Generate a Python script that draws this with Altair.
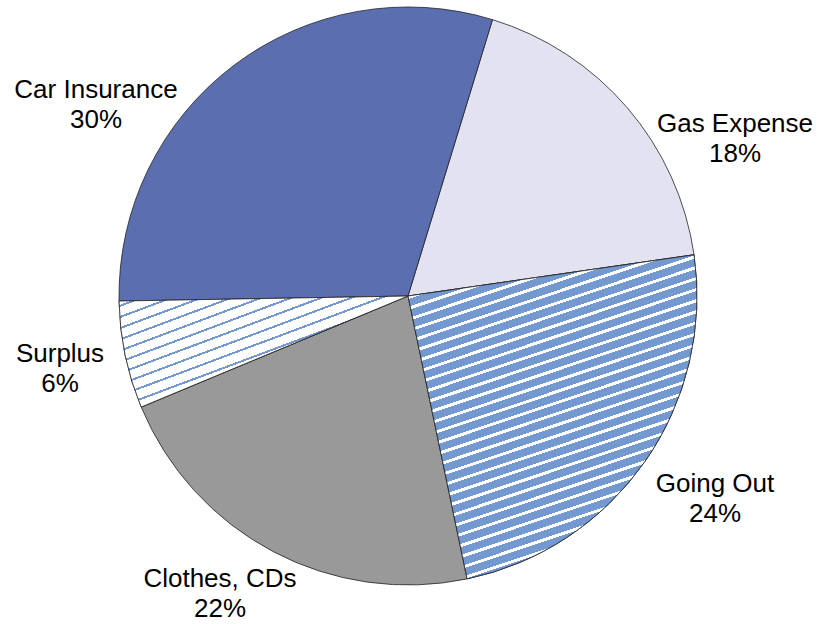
import math
import altair as alt
import pandas as pd

# ---- data ----
categories = ["Gas Expense", "Going Out", "Clothes, CDs", "Surplus", "Car Insurance"]
shares = [18, 24, 22, 6, 30]

# ---- layout / style ----
W_CHART, H_CHART = 819, 624
CX, CY, R = 408, 296, 289
START_DEG = 17.0
colors = ["#e2e2f0", "#7399d0", "#999999", "#ffffff", "#5b6eb0"]
label_pos = [(735, 132), (715, 492), (220, 587), (60, 362), (96, 98)]

a0 = math.radians(START_DEG)
theta_scale = alt.Scale(domain=[0, 100], range=[a0, a0 + 2 * math.pi])

cum = []
s = 0
for v in shares:
    cum.append((s, s + v))
    s += v

df = pd.DataFrame({
    "cat": categories,
    "share": shares,
    "s0": [c[0] for c in cum],
    "s1": [c[1] for c in cum],
    "label": [f"{c}\n{v}%" for c, v in zip(categories, shares)],
    "lx": [p[0] for p in label_pos],
    "ly": [p[1] for p in label_pos],
})


def wedge_bbox(s0, s1):
    t0 = START_DEG + s0 * 3.6
    t1 = START_DEG + s1 * 3.6
    pts = [(CX, CY)]
    for t in [t0, t1] + [k * 90 for k in range(0, 9) if t0 < k * 90 < t1]:
        r = math.radians(t)
        pts.append((CX + R * math.sin(r), CY - R * math.cos(r)))
    xs = [p[0] for p in pts]
    ys = [p[1] for p in pts]
    return max(xs) - min(xs), max(ys) - min(ys)


def stripes(w, h, ang_deg, period, bg, fg, line_w):
    sn, cs = math.sin(math.radians(ang_deg)), math.cos(math.radians(ang_deg))
    L = w * sn + h * cs
    ax, ay = w * sn / L, h * cs / L
    n2 = ax * ax + ay * ay
    gx, gy = ax / n2, ay / n2
    stops = []
    k = 0
    while k * period < L:
        o0 = k * period / L
        o1 = min(1.0, (k * period + period - line_w) / L)
        o2 = min(1.0, (k + 1) * period / L)
        stops += [
            alt.GradientStop(offset=o0, color=bg),
            alt.GradientStop(offset=o1, color=bg),
            alt.GradientStop(offset=o1, color=fg),
            alt.GradientStop(offset=o2, color=fg),
        ]
        k += 1
    return alt.LinearGradient(gradient="linear", stops=stops, x1=0, y1=0, x2=gx, y2=gy)


base = alt.Chart(df).encode(
    theta=alt.Theta("s0:Q", scale=theta_scale),
    theta2="s1:Q",
    x=alt.value(CX),
    y=alt.value(CY),
)

pie = base.mark_arc(outerRadius=R, stroke="#222222", strokeWidth=0.8).encode(
    fill=alt.Fill("cat:N", scale=alt.Scale(domain=categories, range=colors), legend=None)
)

i_go = categories.index("Going Out")
w_go, h_go = wedge_bbox(*cum[i_go])
going = base.mark_arc(
    outerRadius=R, stroke="#222222", strokeWidth=0.8,
    fill=stripes(w_go, h_go, 18.5, 10.5, "#7399d0", "#ffffff", 3.0),
).transform_filter(alt.datum.cat == "Going Out")

i_su = categories.index("Surplus")
w_su, h_su = wedge_bbox(*cum[i_su])
surplus = base.mark_arc(
    outerRadius=R, stroke="#222222", strokeWidth=0.8,
    fill=stripes(w_su, h_su, 20.5, 10.5, "#ffffff", "#7399d0", 2.0),
).transform_filter(alt.datum.cat == "Surplus")

labels = alt.Chart(df).mark_text(
    font="Liberation Sans", fontSize=26, lineHeight=30, align="center",
    baseline="alphabetic", lineBreak="\n", color="#000000",
).encode(
    x=alt.X("lx:Q", scale=None),
    y=alt.Y("ly:Q", scale=None),
    text="label:N",
)

chart = alt.layer(pie, going, surplus, labels).properties(
    width=W_CHART, height=H_CHART, padding=0, autosize="none", background="white"
).configure_view(stroke=None)

chart.save("out.html", embed_options={"renderer": "svg", "actions": False})
